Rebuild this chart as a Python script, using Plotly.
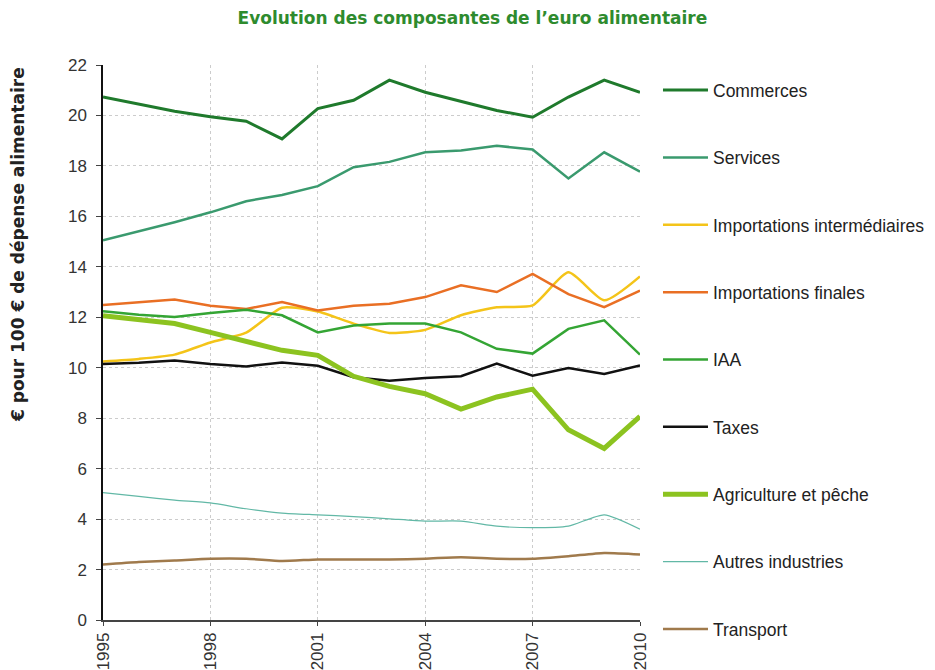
import plotly.graph_objects as go

years = list(range(1995, 2011))

commerces = [20.73, 20.45, 20.17, 19.95, 19.77, 19.07, 20.27, 20.6, 21.4, 20.92, 20.57, 20.2, 19.93, 20.73, 21.4, 20.92]
services = [15.05, 15.4, 15.77, 16.16, 16.6, 16.85, 17.2, 17.95, 18.16, 18.54, 18.61, 18.8, 18.65, 17.5, 18.54, 17.77]
imp_inter = [10.25, 10.35, 10.52, 11.0, 11.39, 12.38, 12.23, 11.75, 11.38, 11.5, 12.08, 12.4, 12.47, 13.78, 12.67, 13.62]
imp_finales = [12.49, 12.6, 12.7, 12.46, 12.33, 12.6, 12.27, 12.46, 12.54, 12.8, 13.27, 13.0, 13.72, 12.92, 12.4, 13.06]
iaa = [12.24, 12.1, 12.01, 12.17, 12.3, 12.08, 11.4, 11.67, 11.75, 11.75, 11.4, 10.75, 10.56, 11.54, 11.88, 10.52]
taxes = [10.15, 10.2, 10.29, 10.15, 10.05, 10.21, 10.08, 9.62, 9.48, 9.59, 9.66, 10.16, 9.68, 9.99, 9.75, 10.09]
agriculture = [12.06, 11.9, 11.75, 11.4, 11.07, 10.69, 10.49, 9.66, 9.26, 8.97, 8.36, 8.84, 9.15, 7.54, 6.8, 8.07]
autres = [5.05, 4.9, 4.75, 4.64, 4.41, 4.24, 4.17, 4.1, 4.01, 3.92, 3.92, 3.72, 3.66, 3.72, 4.17, 3.6]
transport = [2.2, 2.3, 2.36, 2.43, 2.43, 2.34, 2.4, 2.4, 2.4, 2.43, 2.49, 2.43, 2.43, 2.53, 2.66, 2.6]

x_ticks = [1995, 1998, 2001, 2004, 2007, 2010]
y_ticks = [0, 2, 4, 6, 8, 10, 12, 14, 16, 18, 20, 22]

series = [
    ("Commerces", commerces, "#1f7a2c", 3, "linear"),
    ("Services", services, "#3a9a6e", 2.5, "linear"),
    ("Importations intermédiaires", imp_inter, "#f4c419", 2.5, "spline"),
    ("Importations finales", imp_finales, "#e96f24", 2.5, "linear"),
    ("IAA", iaa, "#34a534", 2.5, "linear"),
    ("Taxes", taxes, "#111111", 2.5, "linear"),
    ("Agriculture et pêche", agriculture, "#8cc320", 5, "linear"),
    ("Autres industries", autres, "#62b8a6", 1.2, "spline"),
    ("Transport", transport, "#a07a4c", 2.5, "spline"),
]

fig = go.Figure()
for i, (name, vals, color, width, shape) in enumerate(series):
    fig.add_trace(go.Scatter(
        x=years, y=vals, name=name, mode="lines",
        line=dict(color=color, width=width, shape=shape, smoothing=0.6),
        legendgroup=f"g{i}",
    ))

font_family = "Liberation Sans, Arial, sans-serif"
wide_family = "DejaVu Sans, Verdana, sans-serif"

fig.update_layout(
    width=927, height=662,
    margin=dict(l=95, r=295, t=57, b=50, autoexpand=False),
    paper_bgcolor="white", plot_bgcolor="white",
    font=dict(family=font_family, color="#333333"),
    title=dict(
        text="<b>Evolution des composantes de l’euro alimentaire</b>",
        x=0.501, xanchor="center", y=0.985, yanchor="middle",
        font=dict(size=17, color="#2e8b2e", family=wide_family),
    ),
    showlegend=True,
    legend=dict(
        x=1.0335, xanchor="left", y=0.987, yanchor="top",
        font=dict(size=17.5, color="#222222", family=font_family),
        tracegroupgap=41.6,
        itemwidth=45,
        maxheight=640,
        bgcolor="rgba(0,0,0,0)",
    ),
    xaxis=dict(
        range=[1995, 2010],
        tickmode="array", tickvals=x_ticks, ticktext=[str(v) for v in x_ticks],
        tickangle=-90,
        tickfont=dict(size=17, color="#333333"),
        showgrid=True, gridcolor="#cccccc", griddash="dot", gridwidth=1,
        showline=True, linecolor="#444444", linewidth=1.5,
        ticks="outside", ticklen=4, tickcolor="#444444",
        zeroline=False, automargin=False,
    ),
    yaxis=dict(
        range=[0, 22],
        tickmode="array", tickvals=y_ticks,
        tickfont=dict(size=17, color="#333333"),
        showgrid=True, gridcolor="#cccccc", griddash="dot", gridwidth=1,
        showline=True, linecolor="#111111", linewidth=1.5,
        ticks="outside", ticklen=5, tickcolor="#444444",
        ticklabelstandoff=6,
        zeroline=False, automargin=False,
    ),
    annotations=[dict(
        text="<b>€ pour 100 € de dépense alimentaire</b>",
        textangle=-90, xref="paper", yref="paper",
        x=-0.158, y=0.676, xanchor="center", yanchor="middle",
        showarrow=False,
        font=dict(size=17, color="#222222", family=wide_family),
    )],
)

fig.write_html("out.html")
